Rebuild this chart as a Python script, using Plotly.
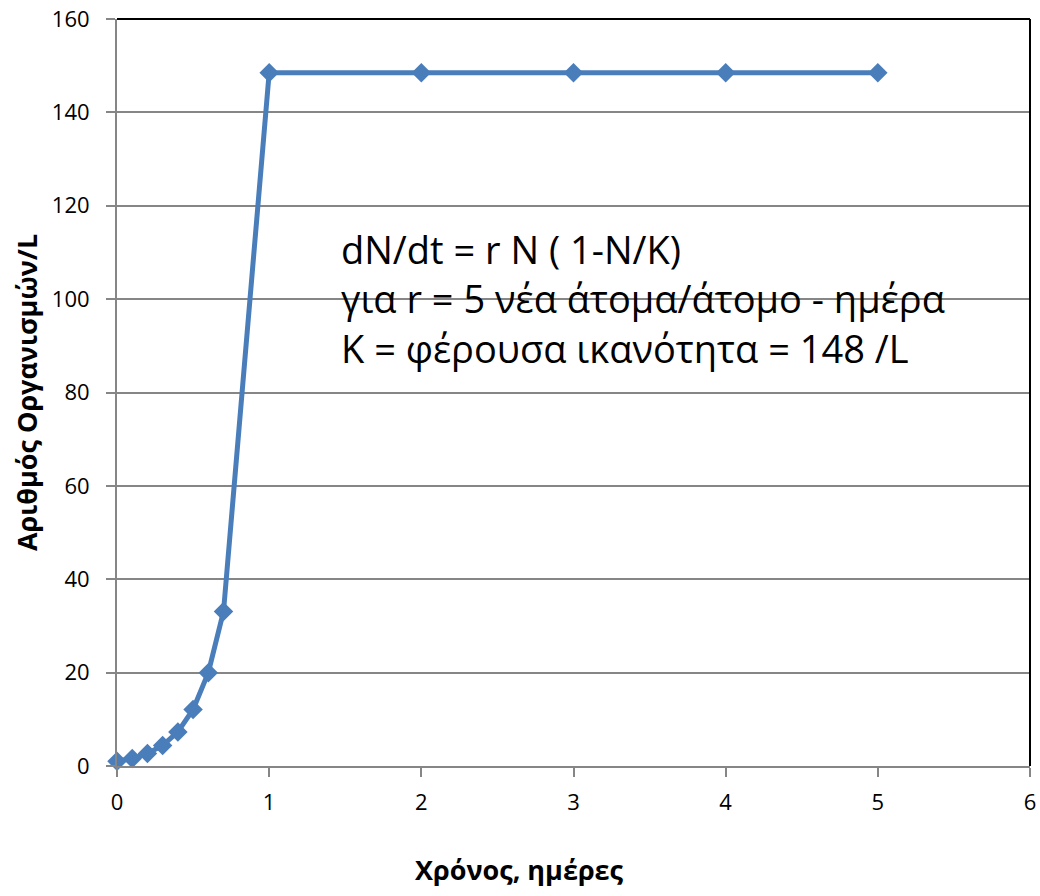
import plotly.graph_objects as go

time_days = [0, 0.1, 0.2, 0.3, 0.4, 0.5, 0.6, 0.7, 1, 2, 3, 4, 5]
organisms_per_L = [1.0, 1.6, 2.7, 4.4, 7.3, 12.1, 20.0, 33.1, 148.5, 148.5, 148.5, 148.5, 148.5]
x_ticks = [0, 1, 2, 3, 4, 5, 6]
y_ticks = [0, 20, 40, 60, 80, 100, 120, 140, 160]
note_lines = [
    "dN/dt = r N ( 1-N/K)",
    "για r = 5 νέα άτομα/άτομο - ημέρα",
    "K = φέρουσα ικανότητα = 148 /L",
]

FONT = "Open Sans"
BLUE = "#4a7ebb"
GRAY = "#868686"

fig = go.Figure()
fig.add_trace(go.Scatter(
    x=time_days, y=organisms_per_L, mode="lines+markers",
    line=dict(color=BLUE, width=5),
    marker=dict(symbol="diamond", size=15, color=BLUE),
    showlegend=False, cliponaxis=False,
))

fig.update_layout(
    width=1040, height=896,
    margin=dict(l=117, r=10, t=19, b=130, autoexpand=False),
    plot_bgcolor="white", paper_bgcolor="white",
    font=dict(family=FONT, size=22, color="black"),
    xaxis=dict(
        range=[0, 6], tickvals=x_ticks, showgrid=False, zeroline=False,
        showline=True, linecolor=GRAY, linewidth=2, automargin=False,
        ticks="outside", ticklen=9, tickcolor=GRAY, tickwidth=1.5,
        tickfont=dict(size=22), ticklabelstandoff=7,
    ),
    yaxis=dict(
        range=[0, 160], tickvals=y_ticks, showgrid=True, gridcolor=GRAY, gridwidth=1.5,
        zeroline=False, showline=True, linecolor=GRAY, linewidth=2, automargin=False,
        ticks="outside", ticklen=9, tickcolor=GRAY, tickwidth=1.5,
        tickfont=dict(size=22), ticklabelstandoff=12,
    ),
)

# black border on top and right of plot area
fig.add_shape(type="line", xref="x domain", yref="y domain", x0=0, x1=1, y0=1, y1=1,
              line=dict(color="black", width=2))
fig.add_shape(type="line", xref="x domain", yref="y domain", x0=1, x1=1, y0=0, y1=1,
              line=dict(color="black", width=2))

# axis titles
fig.add_annotation(
    xref="paper", yref="paper", x=0.441, y=-0.139, xanchor="center", yanchor="middle",
    text="<b>Χρόνος, ημέρες</b>", showarrow=False, font=dict(size=27),
)
fig.add_annotation(
    xref="paper", yref="paper", x=-0.099, y=0.5, xanchor="center", yanchor="middle",
    text="<b>Αριθμός Οργανισμών/L</b>", showarrow=False, textangle=-90, font=dict(size=27),
)

fig.add_annotation(
    xref="x", yref="y", x=1.46, y=100.2, xanchor="left", yanchor="middle",
    text="<br>".join(note_lines), align="left", showarrow=False,
    font=dict(family=FONT, size=38, color="black"),
)

fig.write_html("out.html", config={"displayModeBar": False},
               post_script="document.body.style.margin='0';")
